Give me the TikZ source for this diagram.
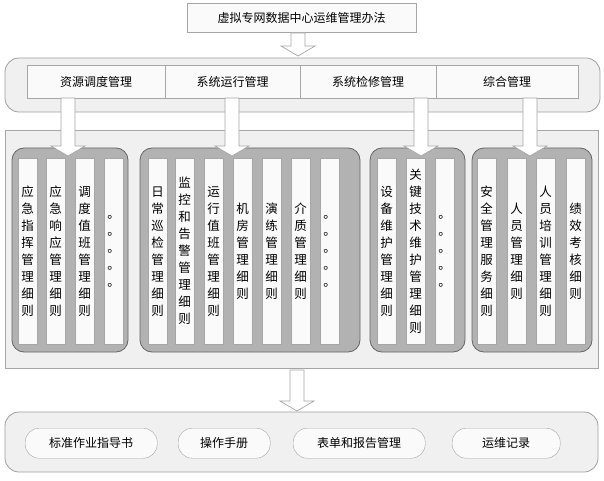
\documentclass[tikz,border=0pt]{standalone}
\usepackage{fontspec}
\setmainfont{Noto Sans CJK SC}
\begin{document}
\begin{tikzpicture}[x=1pt,y=-1pt,
 cell/.style={draw=gray!70,fill=gray!4,font=\fontsize{12}{14}\selectfont},
 band/.style={draw=gray!75,fill=gray!12,rounded corners=14pt,line width=0.8pt},
 grp/.style={draw=gray!80!black,fill=gray!60,rounded corners=12pt,line width=0.8pt},
 col/.style={draw=gray!70,fill=gray!4,minimum width=19pt,minimum height=186pt,inner sep=0pt,align=center,font=\fontsize{12.5}{17}\selectfont,anchor=north west},
 barr/.style={draw=gray!70,fill=white,line width=0.7pt},
 pill/.style={draw=gray!70,fill=gray!4,rounded corners=14pt,minimum height=30pt,inner sep=0pt,font=\fontsize{12}{14}\selectfont,anchor=north west}]
\useasboundingbox (0,0) rectangle (604,481);
\newcommand\barrow[3]{\draw[barr] ({#1-7},#2)--({#1+7},#2)--({#1+7},{#3-10})--({#1+17},{#3-10})--(#1,#3)--({#1-17},{#3-10})--({#1-7},{#3-10})--cycle;}
% top
\node[cell,minimum width=229pt,minimum height=29pt,anchor=north west] (top) at (187,3) {虚拟专网数据中心运维管理办法};
\barrow{298}{33}{56}
% band 1
\draw[band] (5,58) rectangle (600,112);
\node[cell,minimum width=138pt,minimum height=33pt,anchor=north west] (c1) at (27,65) {资源调度管理};
\node[cell,minimum width=135pt,minimum height=33pt,anchor=north west] (c2) at (165,65) {系统运行管理};
\node[cell,minimum width=136pt,minimum height=33pt,anchor=north west] (c3) at (300,65) {系统检修管理};
\node[cell,minimum width=142pt,minimum height=33pt,anchor=north west] (c4) at (436,65) {综合管理};
% big rect
\draw[draw=gray!70,fill=gray!12] (5,130) rectangle (598,368);
\draw[grp] (12,148) rectangle (128,352);
\draw[grp] (140,148) rectangle (360,352);
\draw[grp] (370,148) rectangle (465,352);
\draw[grp] (472,148) rectangle (592,352);
\barrow{68}{98}{156}
\barrow{232}{98}{156}
\barrow{421}{98}{156}
\barrow{530}{98}{156}
\def\dd{。\\。\\。\\。\\。}
\node[col] (a1) at (18,158) {应\\急\\指\\挥\\管\\理\\细\\则};
\node[col] (a2) at (46,158) {应\\急\\响\\应\\管\\理\\细\\则};
\node[col] (a3) at (75,158) {调\\度\\值\\班\\管\\理\\细\\则};
\node[col] (a4) at (104,158) {\dd};
\node[col] (b1) at (148,158) {日\\常\\巡\\检\\管\\理\\细\\则};
\node[col] (b2) at (175,158) {监\\控\\和\\告\\警\\管\\理\\细\\则};
\node[col] (b3) at (204,158) {运\\行\\值\\班\\管\\理\\细\\则};
\node[col] (b4) at (233,158) {机\\房\\管\\理\\细\\则};
\node[col] (b5) at (262,158) {演\\练\\管\\理\\细\\则};
\node[col] (b6) at (291,158) {介\\质\\管\\理\\细\\则};
\node[col] (b7) at (320,158) {\dd};
\node[col] (d1) at (377,158) {设\\备\\维\\护\\管\\理\\细\\则};
\node[col] (d2) at (406,158) {关\\键\\技\\术\\维\\护\\管\\理\\细\\则};
\node[col] (d3) at (435,158) {\dd};
\node[col] (e1) at (477,158) {安\\全\\管\\理\\服\\务\\细\\则};
\node[col] (e2) at (507,158) {人\\员\\管\\理\\细\\则};
\node[col] (e3) at (536,158) {人\\员\\培\\训\\管\\理\\细\\则};
\node[col] (e4) at (566,158) {绩\\效\\考\\核\\细\\则};
% bottom
\barrow{297}{370}{411}
\draw[band] (5,412) rectangle (598,472);
\node[pill,minimum width=132pt] (p1) at (25,428) {标准作业指导书};
\node[pill,minimum width=92pt] (p2) at (178,428) {操作手册};
\node[pill,minimum width=132pt] (p3) at (293,428) {表单和报告管理};
\node[pill,minimum width=108pt] (p4) at (452,428) {运维记录};
\end{tikzpicture}
\end{document}
